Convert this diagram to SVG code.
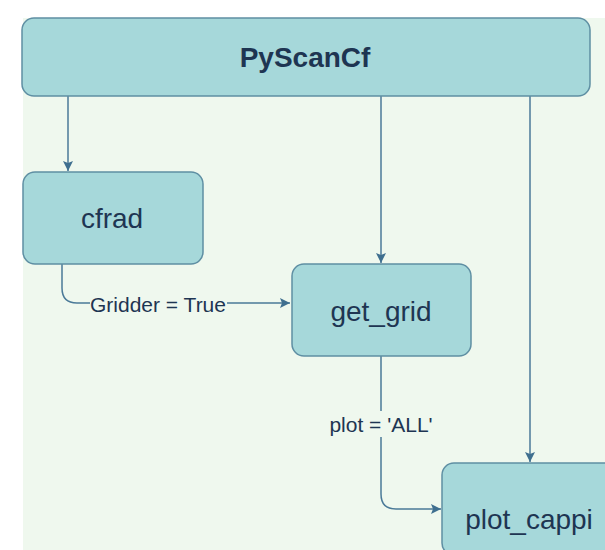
<svg xmlns="http://www.w3.org/2000/svg" width="605" height="550" viewBox="0 0 605 550">
  <defs>
    <marker id="arrow" viewBox="0 0 10 10" refX="10" refY="5" markerWidth="10" markerHeight="10" markerUnits="userSpaceOnUse" orient="auto">
      <path d="M0,0 L10,5 L0,10 L2,5 z" fill="#3f6f8f"/>
    </marker>
  </defs>
  <style>
    .node rect { fill: #a6d8da; stroke: #5f8fa3; stroke-width: 1.5; }
    .label { font-family: "Liberation Sans", Arial, sans-serif; fill: #1e3552; text-anchor: middle; dominant-baseline: central; }
    .title { font-size: 28px; font-weight: bold; }
    .name { font-size: 28px; }
    .edge { fill: none; stroke: #4b7a98; stroke-width: 1.5; marker-end: url(#arrow); }
    .edge-label { font-family: "Liberation Sans", Arial, sans-serif; font-size: 21px; fill: #1e3552; text-anchor: middle; dominant-baseline: central; }
  </style>

  <!-- canvas -->
  <rect x="0" y="0" width="605" height="550" fill="#ffffff"/>
  <rect x="23" y="18" width="582" height="532" fill="#eff8ee"/>

  <!-- connectors -->
  <g id="connectors">
    <path class="edge" d="M68,96 L68,171"/>
    <path class="edge" d="M381,96 L381,263"/>
    <path class="edge" d="M530,96 L530,462"/>
    <path class="edge" d="M62,264 L62,288 Q62,303 77,303 L290,303"/>
    <path class="edge" d="M381,356 L381,494 Q381,509 396,509 L441,509"/>
    <rect x="90" y="293" width="137" height="22" fill="#eff8ee"/>
    <text class="edge-label" x="158" y="304">Gridder = True</text>
    <rect x="328" y="411" width="107" height="26" fill="#eff8ee"/>
    <text class="edge-label" x="381" y="424">plot = 'ALL'</text>
  </g>

  <g id="pyscancf" class="node">
    <rect x="22" y="18" width="568" height="78" rx="12"/>
    <text class="label title" x="305" y="57">PyScanCf</text>
  </g>

  <g id="cfrad" class="node">
    <rect x="23" y="172" width="180" height="92" rx="12"/>
    <text class="label name" x="112" y="218">cfrad</text>
  </g>

  <g id="get_grid" class="node">
    <rect x="292" y="264" width="179" height="92" rx="12"/>
    <text class="label name" x="381" y="311">get_grid</text>
  </g>

  <g id="plot_cappi" class="node">
    <rect x="442" y="463" width="180" height="92" rx="12"/>
    <text class="label name" x="529" y="519">plot_cappi</text>
  </g>
</svg>
